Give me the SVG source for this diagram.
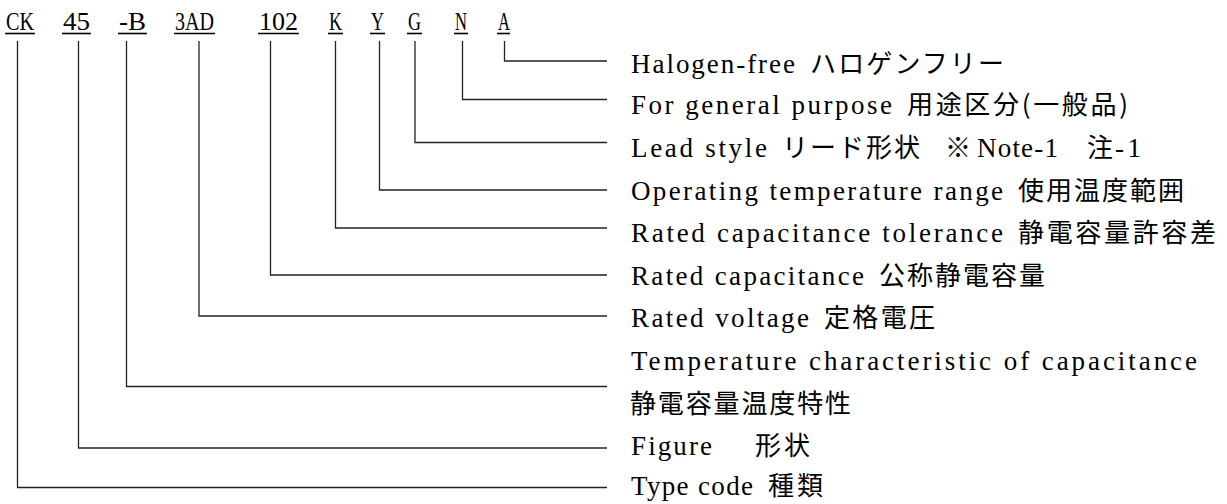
<svg xmlns="http://www.w3.org/2000/svg" width="1227" height="504" viewBox="0 0 1227 504">
<style>
.bg{fill:#ffffff}
.code{font-family:"Liberation Serif","Noto Sans CJK JP",serif;font-size:26px;fill:#000}
.ul{stroke:#000;stroke-width:1.6}
.lbl{font-family:"Liberation Serif","Noto Sans CJK JP",serif;font-size:27px;fill:#000}
.jp{font-family:"Noto Sans CJK JP","Liberation Serif",sans-serif;font-size:26px}
.conn path{fill:none;stroke:#222;stroke-width:1.3}
</style>
<rect class="bg" x="0" y="0" width="1227" height="504"/>
<g id="code-CK"><text class="code" x="6" y="30" textLength="28" lengthAdjust="spacingAndGlyphs">CK</text><line class="ul" x1="5" y1="33.5" x2="35" y2="33.5"/></g>
<g id="code-45"><text class="code" x="63" y="30" textLength="27" lengthAdjust="spacingAndGlyphs">45</text><line class="ul" x1="62" y1="33.5" x2="91" y2="33.5"/></g>
<g id="code-B"><text class="code" x="119" y="30" textLength="27" lengthAdjust="spacingAndGlyphs">-B</text><line class="ul" x1="118" y1="33.5" x2="147" y2="33.5"/></g>
<g id="code-3AD"><text class="code" x="175" y="30" textLength="39" lengthAdjust="spacingAndGlyphs">3AD</text><line class="ul" x1="174" y1="33.5" x2="215" y2="33.5"/></g>
<g id="code-102"><text class="code" x="259" y="30" textLength="39" lengthAdjust="spacingAndGlyphs">102</text><line class="ul" x1="258" y1="33.5" x2="299" y2="33.5"/></g>
<g id="code-K"><text class="code" x="329" y="30" textLength="13" lengthAdjust="spacingAndGlyphs">K</text><line class="ul" x1="328" y1="33.5" x2="343" y2="33.5"/></g>
<g id="code-Y"><text class="code" x="371" y="30" textLength="13" lengthAdjust="spacingAndGlyphs">Y</text><line class="ul" x1="370" y1="33.5" x2="385" y2="33.5"/></g>
<g id="code-G"><text class="code" x="408" y="30" textLength="13" lengthAdjust="spacingAndGlyphs">G</text><line class="ul" x1="407" y1="33.5" x2="422" y2="33.5"/></g>
<g id="code-N"><text class="code" x="455" y="30" textLength="12" lengthAdjust="spacingAndGlyphs">N</text><line class="ul" x1="454" y1="33.5" x2="468" y2="33.5"/></g>
<g id="code-A"><text class="code" x="498" y="30" textLength="12" lengthAdjust="spacingAndGlyphs">A</text><line class="ul" x1="497" y1="33.5" x2="510" y2="33.5"/></g>

<g id="connectors" class="conn">
<path d="M504.5 41 V61 H607"/>
<path d="M462.5 41 V99.5 H607"/>
<path d="M415 41 V142.5 H607"/>
<path d="M379.5 41 V190 H607"/>
<path d="M335.5 41 V228 H607"/>
<path d="M270.5 41 V275 H607"/>
<path d="M199 41 V316 H607"/>
<path d="M126.5 41 V386.5 H607"/>
<path d="M78.5 41 V448 H607"/>
<path d="M17.5 41 V487.5 H607"/>
</g>

<g id="label-A"><text class="lbl" y="73"><tspan x="631" textLength="164" lengthAdjust="spacing">Halogen-free</tspan> <tspan class="jp" x="810" textLength="194" lengthAdjust="spacing">ハロゲンフリー</tspan></text></g>
<g id="label-N"><text class="lbl" y="114"><tspan x="631" textLength="261" lengthAdjust="spacing">For general purpose</tspan> <tspan class="jp" x="907" textLength="221" lengthAdjust="spacing">用途区分(一般品)</tspan></text></g>
<g id="label-G"><text class="lbl" y="157"><tspan x="631" textLength="136" lengthAdjust="spacing">Lead style</tspan> <tspan class="jp" x="782" textLength="138" lengthAdjust="spacing">リード形状</tspan> <tspan class="jp" x="945">※</tspan><tspan x="977" textLength="81" lengthAdjust="spacing">Note-1</tspan> <tspan class="jp" x="1087">注</tspan><tspan x="1115" textLength="26" lengthAdjust="spacing">-1</tspan></text></g>
<g id="label-Y"><text class="lbl" y="200"><tspan x="631" textLength="372" lengthAdjust="spacing">Operating temperature range</tspan> <tspan class="jp" x="1018" textLength="166" lengthAdjust="spacing">使用温度範囲</tspan></text></g>
<g id="label-K"><text class="lbl" y="242"><tspan x="631" textLength="372" lengthAdjust="spacing">Rated capacitance tolerance</tspan> <tspan class="jp" x="1018" textLength="198" lengthAdjust="spacing">静電容量許容差</tspan></text></g>
<g id="label-102"><text class="lbl" y="285"><tspan x="631" textLength="233" lengthAdjust="spacing">Rated capacitance</tspan> <tspan class="jp" x="879" textLength="166" lengthAdjust="spacing">公称静電容量</tspan></text></g>
<g id="label-3AD"><text class="lbl" y="327"><tspan x="631" textLength="178" lengthAdjust="spacing">Rated voltage</tspan> <tspan class="jp" x="824" textLength="111" lengthAdjust="spacing">定格電圧</tspan></text></g>
<g id="label-B"><text class="lbl" y="370"><tspan x="631" textLength="566" lengthAdjust="spacing">Temperature characteristic of capacitance</tspan></text><text class="lbl jp" y="413"><tspan x="630" textLength="221" lengthAdjust="spacing">静電容量温度特性</tspan></text></g>
<g id="label-45"><text class="lbl" y="455"><tspan x="631" textLength="81" lengthAdjust="spacing">Figure</tspan> <tspan class="jp" x="755" textLength="55" lengthAdjust="spacing">形状</tspan></text></g>
<g id="label-CK"><text class="lbl" y="495"><tspan x="631" textLength="122" lengthAdjust="spacing">Type code</tspan> <tspan class="jp" x="768" textLength="55" lengthAdjust="spacing">種類</tspan></text></g>
</svg>
